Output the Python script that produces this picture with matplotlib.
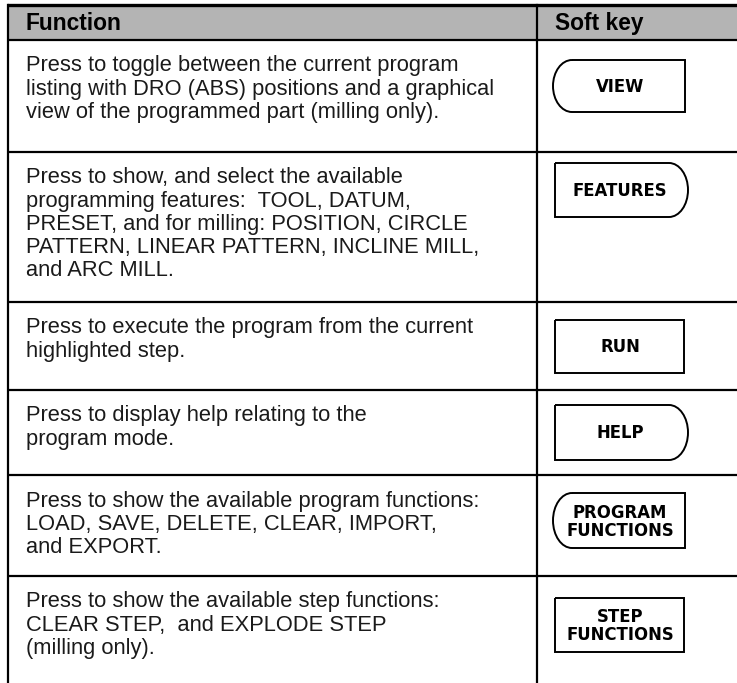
import matplotlib
matplotlib.use("Agg")
import matplotlib.pyplot as plt
from matplotlib.path import Path
from matplotlib.patches import PathPatch, Rectangle

W, H = 737, 683

headers = ["Function", "Soft key"]

descriptions = [
    ["Press to toggle between the current program",
     "listing with DRO (ABS) positions and a graphical",
     "view of the programmed part (milling only)."],
    ["Press to show, and select the available",
     "programming features:  TOOL, DATUM,",
     "PRESET, and for milling: POSITION, CIRCLE",
     "PATTERN, LINEAR PATTERN, INCLINE MILL,",
     "and ARC MILL."],
    ["Press to execute the program from the current",
     "highlighted step."],
    ["Press to display help relating to the",
     "program mode."],
    ["Press to show the available program functions:",
     "LOAD, SAVE, DELETE, CLEAR, IMPORT,",
     "and EXPORT."],
    ["Press to show the available step functions:",
     "CLEAR STEP,  and EXPLODE STEP",
     "(milling only)."],
]

key_labels = ["VIEW", "FEATURES", "RUN", "HELP",
              "PROGRAM\nFUNCTIONS", "STEP\nFUNCTIONS"]
# which ends of the key are rounded: (left, right)
key_ends = [(True, False), (False, True), (False, False),
            (False, True), (True, False), (False, False)]

# layout in pixels
x_left, x_div = 8, 537
y_top, y_head = 5, 40
row_lines = [40, 152, 302, 390, 475, 576]
key_boxes = [(553, 60, 685, 112), (555, 163, 688, 217), (555, 320, 684, 373),
             (555, 405, 688, 460), (553, 493, 685, 548), (555, 598, 684, 652)]

head_font = ["Liberation Sans", "DejaVu Sans"]
body_font = ["Liberation Sans", "DejaVu Sans"]
key_font = ["DejaVu Sans"]


def key_path(x0, y0, x1, y1, round_left, round_right, b=19):
    ym = (y0 + y1) / 2
    k = 0.55
    hh = ym - y0
    verts = [(x0 + b, y0) if round_left else (x0, y0)]
    codes = [Path.MOVETO]
    if round_right:
        verts += [(x1 - b, y0),
                  (x1 - b + k * b, y0), (x1, ym - k * hh), (x1, ym),
                  (x1, ym + k * hh), (x1 - b + k * b, y1), (x1 - b, y1)]
        codes += [Path.LINETO] + [Path.CURVE4] * 6
    else:
        verts += [(x1, y0), (x1, y1)]
        codes += [Path.LINETO, Path.LINETO]
    if round_left:
        verts += [(x0 + b, y1),
                  (x0 + b - k * b, y1), (x0, ym + k * hh), (x0, ym),
                  (x0, ym - k * hh), (x0 + b - k * b, y0), (x0 + b, y0)]
        codes += [Path.LINETO] + [Path.CURVE4] * 6
    else:
        verts += [(x0, y1), (x0, y0)]
        codes += [Path.LINETO, Path.LINETO]
    return Path(verts, codes)


fig = plt.figure(figsize=(W / 100, H / 100), dpi=100)
ax = fig.add_axes([0, 0, 1, 1])
ax.set_xlim(0, W)
ax.set_ylim(H, 0)
ax.axis("off")
renderer = fig.canvas.get_renderer()


def fit_size(s, family, weight, target):
    t = ax.text(0, 0, s, fontsize=10, family=family, fontweight=weight)
    w = t.get_window_extent(renderer).width
    t.remove()
    return 10 * target / w


body_size = (fit_size(descriptions[0][0], body_font, "normal", 452)
             + fit_size(descriptions[5][0], body_font, "normal", 398)) / 2
head_size = fit_size(headers[0], head_font, "bold", 96)
key_size = fit_size("FUNCTIONS", key_font, "bold", 108)

# header band
ax.add_patch(Rectangle((x_left, y_top), W - x_left, y_head - y_top,
                       facecolor="#b4b4b4", edgecolor="none"))
ax.plot([x_left - 1, W], [y_top, y_top], color="black", lw=2.4, solid_capstyle="butt")
ax.text(26, (y_top + y_head) / 2 + 1, headers[0], fontsize=head_size, fontweight="bold",
        family=head_font, va="center", ha="left")
ax.text(555, (y_top + y_head) / 2 + 1, headers[1], fontsize=head_size, fontweight="bold",
        family=head_font, va="center", ha="left")

# grid lines
for y in row_lines:
    ax.plot([x_left, W], [y, y], color="black", lw=1.6, solid_capstyle="butt")
ax.plot([x_left, x_left], [y_top, H], color="black", lw=1.6)
ax.plot([x_div, x_div], [y_top, H], color="black", lw=1.6)

# rows
bounds = row_lines + [H]
line_gap = 23.2
for i, lines in enumerate(descriptions):
    y = bounds[i] + 26
    for j, line in enumerate(lines):
        ax.text(26, y + j * line_gap, line, fontsize=body_size, family=body_font,
                va="center", ha="left", color="#1a1a1a")
    x0, y0, x1, y1 = key_boxes[i]
    rl, rr = key_ends[i]
    ax.add_patch(PathPatch(key_path(x0, y0, x1, y1, rl, rr), facecolor="white",
                           edgecolor="black", lw=1.4))
    ax.text(620, (y0 + y1) / 2 + 1, key_labels[i], fontsize=key_size,
            fontweight="heavy", family=key_font,
            ha="center", va="center", linespacing=1.0)

fig.savefig("out.png", dpi=100)
